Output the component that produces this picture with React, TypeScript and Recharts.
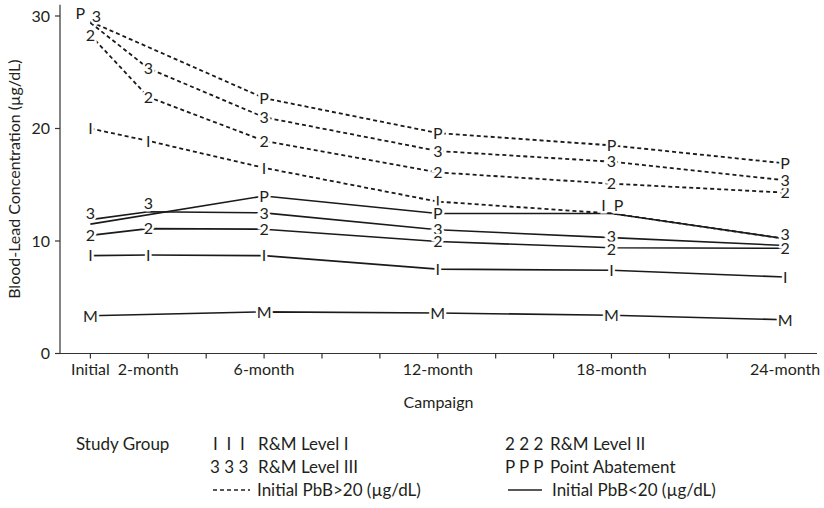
import React from "react"
import { LineChart, Line, XAxis, YAxis, Label } from "recharts"

// campaign months (x positions) and axis ticks
const months = [0, 2, 6, 12, 18, 24]
const tickMonths = [0, 2, 4, 6, 8, 10, 12, 14, 16, 18, 20, 22, 24]
const tickNames: Record<number, string> = {
  0: "Initial",
  2: "2-month",
  6: "6-month",
  12: "12-month",
  18: "18-month",
  24: "24-month",
}
const yTicks = [0, 10, 20, 30]

// initial PbB > 20 (dashed)
const hiLevel1 = [20.0, 18.9, 16.5, 13.5, 12.45, 10.2]
const hiLevel2 = [28.3, 22.8, 18.9, 16.1, 15.1, 14.3]
const hiLevel3 = [29.4, 25.35, 21.0, 18.0, 17.05, 15.4]
const hiPoint = [29.5, null, 22.7, 19.6, 18.5, 16.9]

// initial PbB < 20 (solid)
const loLevel1 = [8.7, 8.75, 8.7, 7.5, 7.4, 6.8]
const loLevel2 = [10.5, 11.1, 11.05, 9.95, 9.4, 9.35]
const loLevel3 = [11.9, 12.6, 12.5, 11.0, 10.3, 9.6]
const loPoint = [11.5, null, 14.0, 12.45, 12.45, 10.2]
const modified = [3.35, null, 3.7, 3.6, 3.4, 3.0]

const data = months.map((m, i) => ({
  month: m,
  hiL1: hiLevel1[i],
  hiL2: hiLevel2[i],
  hiL3: hiLevel3[i],
  hiP: hiPoint[i],
  loL1: loLevel1[i],
  loL2: loLevel2[i],
  loL3: loLevel3[i],
  loP: loPoint[i],
  mod: modified[i],
}))

const INK = "#231f20"
const FONT = "Lato, 'Open Sans', sans-serif"

// marker letters that sit on top of another one are hidden or nudged apart
const hidden = new Set(["hiL1-5", "loP-0", "loP-5"])
const nudge: Record<string, [number, number]> = {
  "hiP-0": [-10, -8],
  "hiL3-0": [6, -7],
  "loL3-0": [0, -6],
  "loL3-1": [0, -9],
  "hiL1-4": [-8, -8],
  "loP-4": [7, -8],
  "loL3-3": [0, -1],
  "loL3-4": [0, -1],
  "loL2-4": [0, 1],
  "loL3-5": [0, -11],
}

const markDot = (key: string, mark: string) => (props: any) => {
  const { cx, cy, index } = props
  const id = `${key}-${index}`
  if (cx == null || cy == null || hidden.has(id)) return <g key={id} />
  const [dx, dy] = nudge[id] ?? [0, 0]
  return (
    <text
      key={id}
      x={cx + dx}
      y={cy + dy + 5.8}
      textAnchor="middle"
      fontSize={16}
      fontFamily={FONT}
      fill={INK}
      stroke="#fff"
      strokeWidth={5}
      paintOrder="stroke"
    >
      {mark}
    </text>
  )
}

const series = [
  { key: "hiL1", mark: "I", dashed: true },
  { key: "hiL2", mark: "2", dashed: true },
  { key: "hiL3", mark: "3", dashed: true },
  { key: "hiP", mark: "P", dashed: true },
  { key: "loP", mark: "P", dashed: false },
  { key: "loL1", mark: "I", dashed: false },
  { key: "loL3", mark: "3", dashed: false },
  { key: "loL2", mark: "2", dashed: false },
  { key: "mod", mark: "M", dashed: false },
]

const yTitle = (props: any) => {
  const { viewBox } = props
  const x = viewBox.x + 10
  const y = viewBox.y + viewBox.height / 2
  return (
    <text
      x={x}
      y={y}
      transform={`rotate(-90 ${x} ${y})`}
      textAnchor="middle"
      fontSize={16}
      fontFamily={FONT}
      fill={INK}
    >
      Blood-Lead Concentration (µg/dL)
    </text>
  )
}

function LegendBlock() {
  const t = { fontSize: 17, fontFamily: FONT, fill: INK }
  return (
    <svg width={824} height={88} style={{ position: "absolute", left: 0, top: 420 }}>
      <text x={76} y={29.5} {...t}>Study Group</text>
      <text x={213} y={29.5} {...t} style={{ whiteSpace: "pre" }}>I  I  I</text>
      <text x={258} y={29.5} {...t}>R&amp;M Level I</text>
      <text x={210} y={52.5} {...t}>3 3 3</text>
      <text x={258} y={52.5} {...t}>R&amp;M Level III</text>
      <line x1={213} x2={250} y1={70} y2={70} stroke={INK} strokeWidth={1.6} strokeDasharray="4 3" />
      <text x={257} y={75.5} {...t}>Initial PbB&gt;20 (µg/dL)</text>

      <text x={505} y={29.5} {...t}>2 2 2</text>
      <text x={550} y={29.5} {...t}>R&amp;M Level II</text>
      <text x={505} y={52.5} {...t}>P P P</text>
      <text x={550} y={52.5} {...t}>Point Abatement</text>
      <line x1={508} x2={542} y1={70} y2={70} stroke={INK} strokeWidth={1.6} />
      <text x={552} y={75.5} {...t}>Initial PbB&lt;20 (µg/dL)</text>
    </svg>
  )
}

export default function App() {
  return (
    <div style={{ position: "absolute", left: 0, top: 0, width: 824, height: 508, background: "#fff" }}>
      <LineChart
        width={824}
        height={420}
        data={data}
        margin={{ top: 4.75, right: 7, bottom: 6.5, left: 10 }}
      >
        <XAxis
          dataKey="month"
          type="number"
          domain={[-1.05, 25.1]}
          allowDataOverflow
          ticks={tickMonths}
          interval={0}
          tickFormatter={(v: number) => tickNames[v] ?? ""}
          height={60}
          tickSize={5}
          tickMargin={5}
          stroke="#333"
          strokeWidth={1.2}
          tick={{ fill: INK, fontSize: 16, fontFamily: FONT }}
        >
          <Label value="Campaign" position="insideBottom" offset={5.5} fill={INK} fontSize={16} fontFamily={FONT} />
        </XAxis>
        <YAxis
          domain={[0, 31]}
          ticks={yTicks}
          interval={0}
          width={50}
          tickSize={5}
          tickMargin={5}
          stroke="#333"
          strokeWidth={1.2}
          tick={{ fill: INK, fontSize: 16, fontFamily: FONT }}
        >
          <Label content={yTitle} />
        </YAxis>
        {series.map((s) => (
          <Line
            key={s.key}
            dataKey={s.key}
            type="linear"
            stroke="#1a1a1a"
            strokeWidth={s.dashed ? 1.8 : 1.6}
            strokeDasharray={s.dashed ? "4 3" : undefined}
            connectNulls
            isAnimationActive={false}
            dot={markDot(s.key, s.mark)}
            activeDot={false}
          />
        ))}
      </LineChart>
      <LegendBlock />
    </div>
  )
}
